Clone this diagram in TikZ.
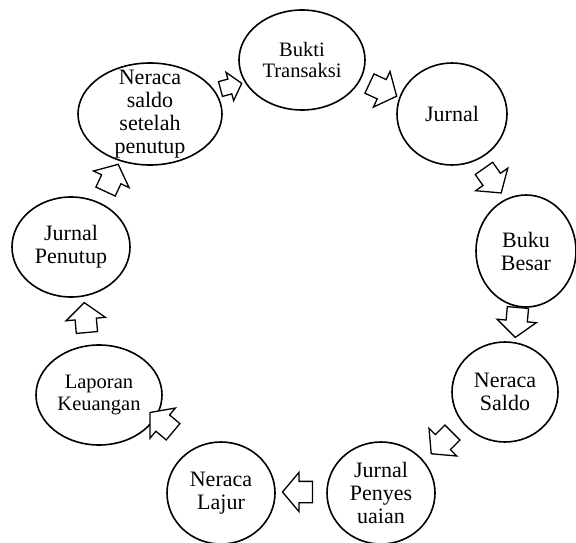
\documentclass[tikz,border=0pt]{standalone}
\usepackage{fontspec}
\setmainfont{Liberation Serif}
\usetikzlibrary{shapes.geometric,shapes.arrows}

\begin{document}
\begin{tikzpicture}[x=1pt,y=-1pt,
 siklus/.style={draw,ellipse,line width=1.6pt,align=center,inner sep=0pt,font=\fontsize{22}{23}\selectfont},
 kecil/.style={font=\fontsize{20.5}{21.5}\selectfont},
 panah/.style={draw,single arrow,line width=1.3pt,fill=white,inner xsep=0pt,inner ysep=10pt,minimum height=30pt,single arrow head extend=9pt,single arrow tip angle=100}]
\useasboundingbox (0,0) rectangle (576,543);
% siklus akuntansi
\node[siklus,kecil,minimum width=126pt,minimum height=100pt] (bukti) at (302,60) {Bukti\\Transaksi};
\node[siklus,minimum width=110pt,minimum height=102pt] (jurnal) at (452,114) {Jurnal};
\node[siklus,minimum width=100pt,minimum height=112pt] (buku) at (526,251) {Buku\\Besar};
\node[siklus,minimum width=106pt,minimum height=100pt] (saldo) at (505,392) {Neraca\\Saldo};
\node[siklus,minimum width=108pt,minimum height=102pt] (sesuai) at (381,493) {Jurnal\\Penyes\\uaian};
\node[siklus,minimum width=108pt,minimum height=102pt] (lajur) at (221,493) {Neraca\\Lajur};
\node[siklus,kecil,minimum width=126pt,minimum height=100pt] (lapor) at (99,395) {Laporan\\Keuangan};
\node[siklus,minimum width=118pt,minimum height=100pt] (tutup) at (71,247) {Jurnal\\Penutup};
\node[siklus,inner ysep=-14pt,minimum width=144pt,minimum height=102pt] (setelah) at (150,114) {Neraca\\saldo\\setelah\\penutup};
% panah blok
\node[panah,rotate=15,minimum height=22pt,inner ysep=7pt,single arrow head extend=7pt] (p1) at (228,87) {};
\node[panah,rotate=-25] (p2) at (379,88) {};
\node[panah,rotate=-55] (p3) at (490,177) {};
\node[panah,rotate=-95] (p4) at (517,318) {};
\node[panah,rotate=-135] (p5) at (445,440) {};
\node[panah,rotate=180] (p6) at (302,492) {};
\node[panah,rotate=140] (p7) at (165,425) {};
\node[panah,rotate=95] (p8) at (86,322) {};
\node[panah,rotate=65] (p9) at (110,182) {};
\end{tikzpicture}
\end{document}
